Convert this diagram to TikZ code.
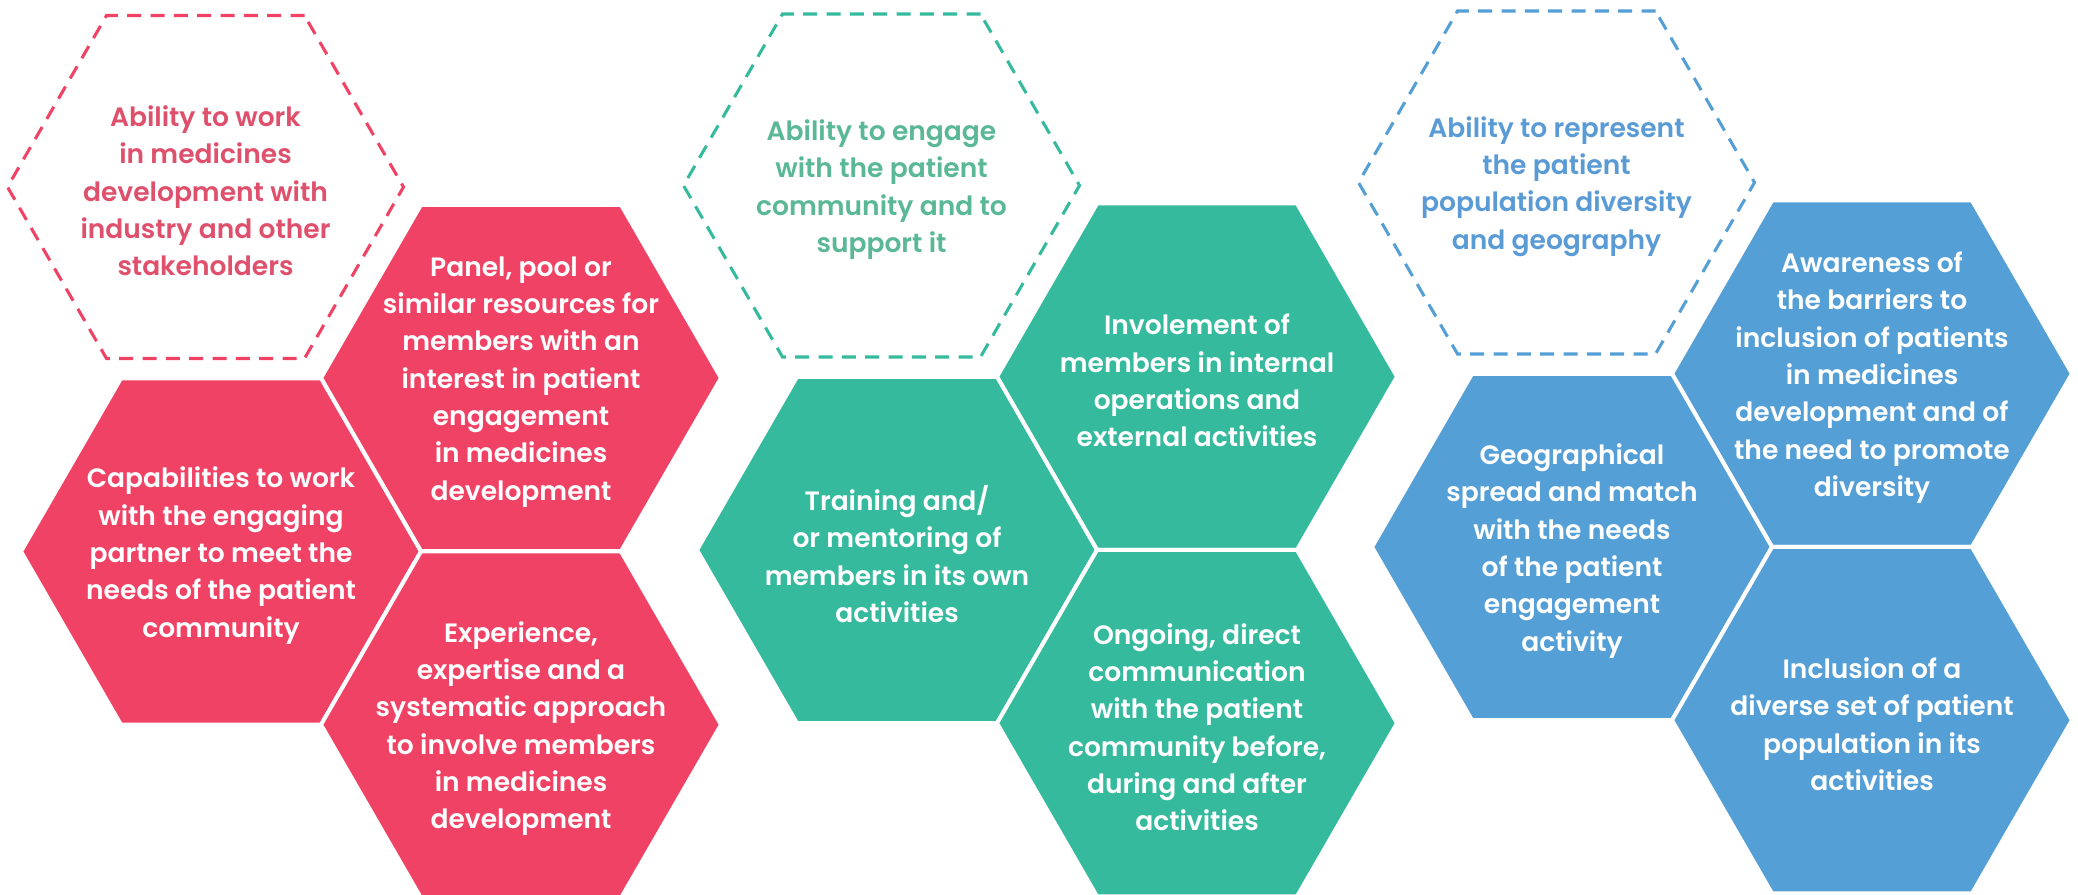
\documentclass[tikz,border=0pt]{standalone}
\usepackage{fontspec}
\setmainfont{Poppins}[UprightFont=* SemiBold]
\usetikzlibrary{shapes.geometric}

\definecolor{hexred}{RGB}{240,66,101}
\definecolor{hexteal}{RGB}{54,186,158}
\definecolor{hexblue}{RGB}{85,159,215}
\definecolor{headred}{RGB}{222,80,108}
\definecolor{headteal}{RGB}{90,184,150}
\definecolor{headblue}{RGB}{90,155,214}

\tikzset{every picture/.style={line width=0.75pt}}
\tikzset{
  hexcell/.style={regular polygon, regular polygon sides=6, minimum size=300pt,
    inner sep=0pt, outer sep=0pt, draw=white, line width=3pt},
  hexhead/.style={regular polygon, regular polygon sides=6, minimum size=297pt,
    inner sep=0pt, outer sep=0pt, line width=2.3pt, dash pattern=on 10.5pt off 7pt},
  celltext/.style={align=center, text=white, inner sep=0pt,
    font=\fontsize{19.9}{28}\selectfont, yshift=-3pt},
  headtext/.style={align=center, inner sep=0pt,
    font=\fontsize{19.9}{28}\selectfont, yshift=-3pt}
}

\begin{document}
\begin{tikzpicture}[x=0.75pt,y=0.75pt,yscale=-1,xscale=1]
%set diagram area: 2078 wide, 895 high
\useasboundingbox (0,0) rectangle (2078,895);

%Shape: Hexagon, dashed [id:red head]
\node [hexhead, draw=hexred] (redHead) at (205.5,187) {};
%Shape: Hexagon [id:red cells]
\node [hexcell, fill=hexred] (redPanel) at (521,378) {};
\node [hexcell, fill=hexred] (redCapab) at (221,551.5) {};
\node [hexcell, fill=hexred] (redExper) at (521,724.7) {};

%Shape: Hexagon, dashed [id:teal head]
\node [hexhead, draw=hexteal] (tealHead) at (881.5,185.5) {};
%Shape: Hexagon [id:teal cells]
\node [hexcell, fill=hexteal] (tealInvol) at (1197,376.7) {};
\node [hexcell, fill=hexteal] (tealTrain) at (897,550) {};
\node [hexcell, fill=hexteal] (tealOngo) at (1197,723.2) {};

%Shape: Hexagon, dashed [id:blue head]
\node [hexhead, draw=hexblue] (blueHead) at (1556.5,182.5) {};
%Shape: Hexagon [id:blue cells]
\node [hexcell, fill=hexblue] (blueAware) at (1872,373.7) {};
\node [hexcell, fill=hexblue] (blueGeo) at (1572,547) {};
\node [hexcell, fill=hexblue] (blueIncl) at (1872,720.2) {};

% Text Node
\node [headtext, text=headred] (redHeadText) at (redHead) {Ability to work\\in medicines\\development with\\industry and other\\stakeholders};
% Text Node
\node [celltext] (redPanelText) at (redPanel) {Panel, pool or\\similar resources for\\members with an\\interest in patient\\engagement\\in medicines\\development};
% Text Node
\node [celltext] (redCapabText) at (redCapab) {Capabilities to work\\with the engaging\\partner to meet the\\needs of the patient\\community};
% Text Node
\node [celltext] (redExperText) at (redExper) {Experience,\\expertise and a\\systematic approach\\to involve members\\in medicines\\development};

% Text Node
\node [headtext, text=headteal] (tealHeadText) at (tealHead) {Ability to engage\\with the patient\\community and to\\support it};
% Text Node
\node [celltext] (tealInvolText) at (tealInvol) {Involement of\\members in internal\\operations and\\external activities};
% Text Node
\node [celltext] (tealTrainText) at (tealTrain) {Training and/\\or mentoring of\\members in its own\\activities};
% Text Node
\node [celltext] (tealOngoText) at (tealOngo) {Ongoing, direct\\communication\\with the patient\\community before,\\during and after\\activities};

% Text Node
\node [headtext, text=headblue] (blueHeadText) at (blueHead) {Ability to represent\\the patient\\population diversity\\and geography};
% Text Node
\node [celltext] (blueAwareText) at (blueAware) {Awareness of\\the barriers to\\inclusion of patients\\in medicines\\development and of\\the need to promote\\diversity};
% Text Node
\node [celltext] (blueGeoText) at (blueGeo) {Geographical\\spread and match\\with the needs\\of the patient\\engagement\\activity};
% Text Node
\node [celltext] (blueInclText) at (blueIncl) {Inclusion of a\\diverse set of patient\\population in its\\activities};

\end{tikzpicture}
\end{document}
